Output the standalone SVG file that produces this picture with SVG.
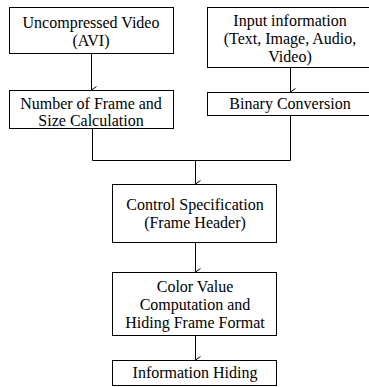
<svg xmlns="http://www.w3.org/2000/svg" width="369" height="387" viewBox="0 0 369 387">
<defs>
<style>
.box{fill:#fff;stroke:#000;stroke-width:1}
.t{font-family:"Liberation Serif","Times New Roman",serif;font-size:16px;fill:#000;text-anchor:middle}
.c{fill:none;stroke:#000;stroke-width:1}
</style>
<marker id="a" markerWidth="8" markerHeight="8" refX="4" refY="7" orient="auto" markerUnits="userSpaceOnUse" viewBox="0 0 8 8">
<path d="M0.5,2 L4,7 L7.5,2" fill="none" stroke="#000" stroke-width="1"/>
</marker>
</defs>
<rect width="369" height="387" fill="#fff"/>
<g id="connectors">
<line class="c" x1="91.5" y1="53" x2="91.5" y2="90" marker-end="url(#a)"/>
<line class="c" x1="290.5" y1="67" x2="290.5" y2="92" marker-end="url(#a)"/>
<polyline class="c" points="92.5,128 92.5,160.5 290.5,160.5 290.5,115"/>
<line class="c" x1="195.5" y1="160" x2="195.5" y2="184" marker-end="url(#a)"/>
<line class="c" x1="195.5" y1="242" x2="195.5" y2="272" marker-end="url(#a)"/>
<line class="c" x1="195.5" y1="335" x2="195.5" y2="360" marker-end="url(#a)"/>
</g>
<g id="n1">
<rect class="box" x="9.5" y="7.5" width="164" height="46"/>
<text class="t" x="91" y="28">Uncompressed Video</text>
<text class="t" x="91" y="46">(AVI)</text>
</g>
<g id="n2">
<rect class="box" x="9.5" y="90.5" width="164" height="38"/>
<text class="t" x="91" y="109">Number of Frame and</text>
<text class="t" x="91" y="126">Size Calculation</text>
</g>
<g id="n3">
<rect class="box" x="207.5" y="7.5" width="166" height="60"/>
<text class="t" x="290" y="26">Input information</text>
<text class="t" x="290" y="44">(Text, Image, Audio,</text>
<text class="t" x="290" y="62">Video)</text>
</g>
<g id="n4">
<rect class="box" x="207.5" y="92.5" width="166" height="23"/>
<text class="t" x="290" y="109">Binary Conversion</text>
</g>
<g id="n5">
<rect class="box" x="112.5" y="184.5" width="164" height="58"/>
<text class="t" x="195" y="210">Control Specification</text>
<text class="t" x="195" y="228">(Frame Header)</text>
</g>
<g id="n6">
<rect class="box" x="112.5" y="272.5" width="164" height="63"/>
<text class="t" x="195" y="292">Color Value</text>
<text class="t" x="195" y="310">Computation and</text>
<text class="t" x="195" y="328">Hiding Frame Format</text>
</g>
<g id="n7">
<rect class="box" x="112.5" y="360.5" width="164" height="25"/>
<text class="t" x="195" y="378">Information Hiding</text>
</g>
</svg>
